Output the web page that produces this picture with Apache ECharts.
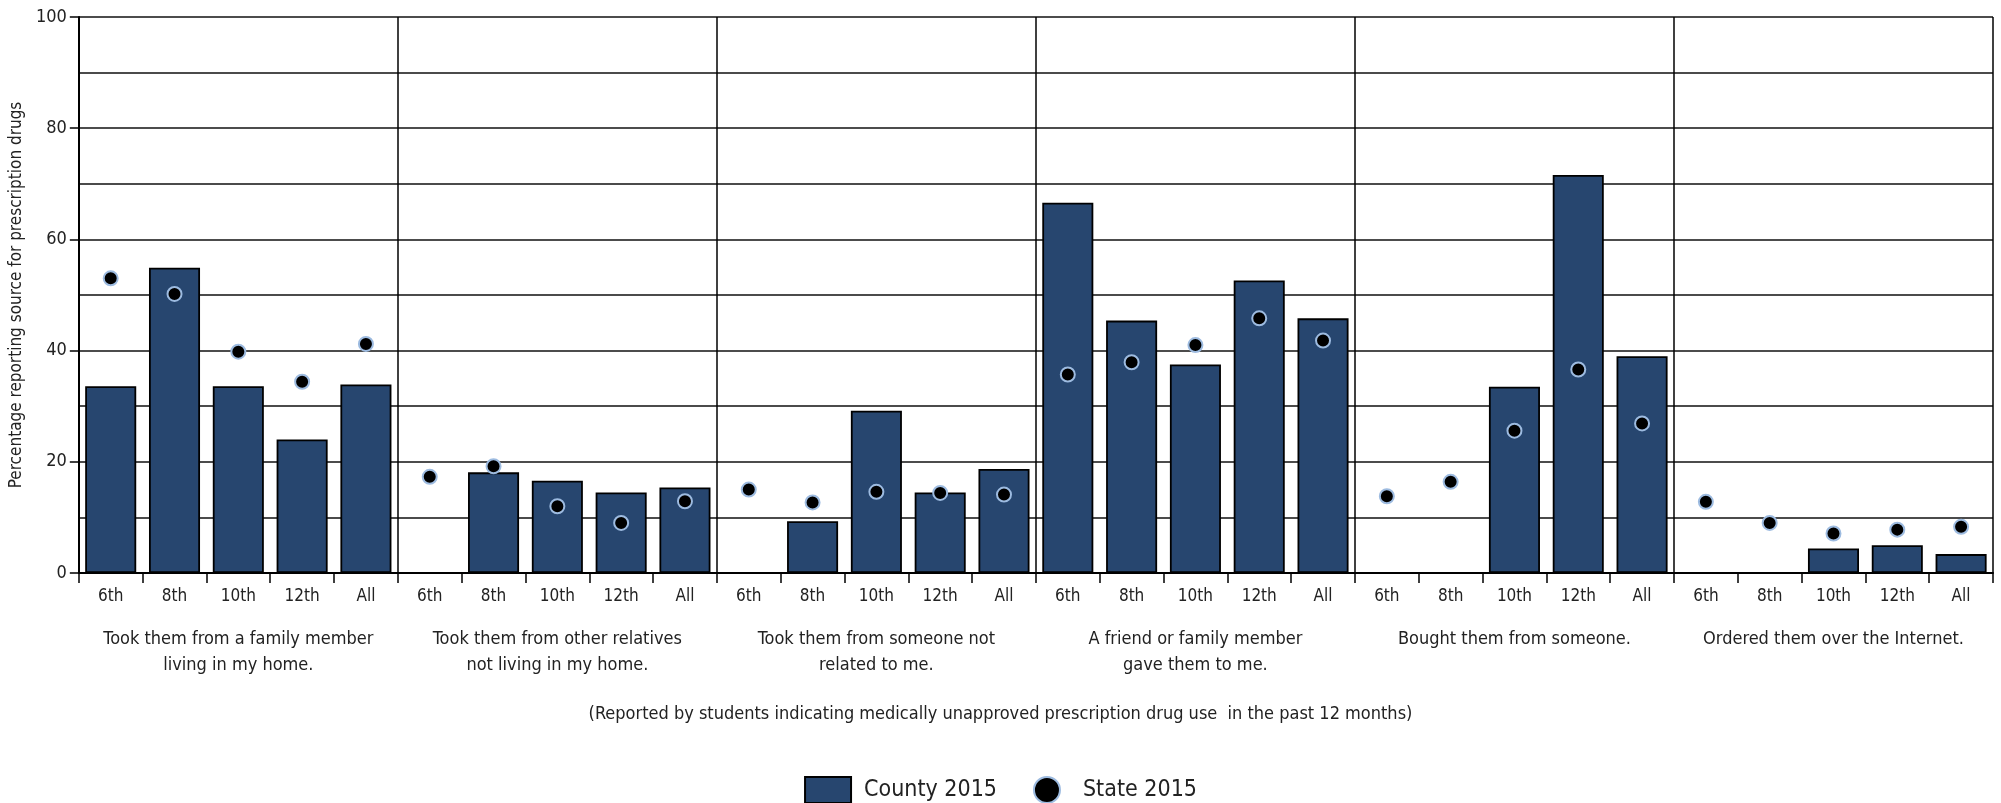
<!DOCTYPE html>
<html><head><meta charset="utf-8">
<script src="https://cdn.jsdelivr.net/npm/echarts@6/dist/echarts.min.js"></script>
<style>html,body{margin:0;padding:0;background:#fff}#c{width:2001px;height:803px}</style>
</head><body><div id="c"></div>
<script>
const grades = ["6th","8th","10th","12th","All"];
const groups = [
  "Took them from a family member\nliving in my home.",
  "Took them from other relatives\nnot living in my home.",
  "Took them from someone not\nrelated to me.",
  "A friend or family member\ngave them to me.",
  "Bought them from someone.",
  "Ordered them over the Internet."
];
const county2015 = [
  33.6, 54.9, 33.6, 24.0, 33.9,
  null, 18.1, 16.6, 14.5, 15.4,
  null, 9.3, 29.2, 14.5, 18.7,
  66.6, 45.4, 37.5, 52.6, 45.8,
  null, null, 33.5, 71.6, 39.0,
  null, null, 4.4, 5.0, 3.4
];
const state2015 = [
  53.0, 50.2, 39.8, 34.4, 41.2,
  17.3, 19.2, 12.0, 9.0, 12.9,
  15.0, 12.7, 14.6, 14.4, 14.1,
  35.7, 37.9, 41.0, 45.8, 41.8,
  13.8, 16.4, 25.6, 36.6, 26.9,
  12.8, 9.0, 7.1, 7.8, 8.3
];
const yTicks = [0, 20, 40, 60, 80, 100];
const footnote = "(Reported by students indicating medically unapproved prescription drug use  in the past 12 months)";

const FONT = "'DejaVu Sans Condensed','Liberation Sans Narrow','Open Sans',sans-serif";
const cats = [];
groups.forEach((g, gi) => grades.forEach(gr => cats.push(gr)));

const chart = echarts.init(document.getElementById('c'), null, {renderer: 'canvas'});
chart.setOption({
  animation: false,
  backgroundColor: '#fff',
  textStyle: {fontFamily: FONT, color: '#222'},
  grid: {left: 75, right: 8, top: 17, bottom: 230, containLabel: false},
  xAxis: [
    {
      type: 'category', data: cats.map((c, i) => ({value: c + '_' + i})),
      boundaryGap: true,
      axisLine: {show: true, lineStyle: {color: '#000', width: 2}},
      axisTick: {show: true, interval: 0, length: 10, lineStyle: {color: '#000', width: 1.5}},
      axisLabel: {interval: 0, margin: 15, fontSize: 17, color: '#222', fontFamily: FONT,
        formatter: v => v.split('_')[0]},
      splitLine: {show: false}
    },
    {
      type: 'category', data: groups, position: 'bottom', boundaryGap: true,
      axisLine: {show: false}, axisTick: {show: false},
      axisLabel: {interval: 0, margin: 53, fontSize: 18, lineHeight: 26, color: '#222', fontFamily: FONT},
      splitLine: {show: true, lineStyle: {color: '#000', width: 1.5}}
    }
  ],
  yAxis: {
    type: 'value', min: yTicks[0], max: yTicks[yTicks.length - 1], interval: 20,
    name: 'Percentage reporting source for prescription drugs',
    nameLocation: 'middle', nameGap: 52, nameRotate: 90,
    nameTextStyle: {fontSize: 17, color: '#222', fontFamily: FONT},
    axisLine: {show: true, lineStyle: {color: '#000', width: 2}},
    axisTick: {show: true, length: 9, lineStyle: {color: '#000', width: 1.5}},
    axisLabel: {fontSize: 18, color: '#222', margin: 12, fontFamily: FONT},
    splitLine: {show: true, lineStyle: {color: '#111', width: 1.5}},
    minorTick: {show: false, splitNumber: 2},
    minorSplitLine: {show: true, lineStyle: {color: '#111', width: 1.5}}
  },
  legend: {
    top: 771, left: 'center', itemWidth: 46, itemHeight: 26, itemGap: 36,
    textStyle: {fontSize: 23, color: '#222', fontFamily: FONT, padding: [0, 0, 0, 8]},
    data: [
      {name: 'County 2015', icon: 'rect'},
      {name: 'State 2015', icon: 'circle'}
    ]
  },
  graphic: [{
    type: 'text', left: 'center', top: 705,
    style: {text: footnote, fontSize: 18, fill: '#222', fontFamily: FONT}
  }],
  series: [
    {
      name: 'County 2015', type: 'bar', barWidth: '80%',
      data: county2015,
      itemStyle: {color: '#27466f', borderColor: '#000', borderWidth: 1.8},
      z: 2
    },
    {
      name: 'State 2015', type: 'scatter', symbol: 'circle', symbolSize: 14,
      data: state2015,
      itemStyle: {color: '#000', borderColor: '#9dbbe0', borderWidth: 2, opacity: 1},
      z: 5
    }
  ]
});
</script></body></html>
